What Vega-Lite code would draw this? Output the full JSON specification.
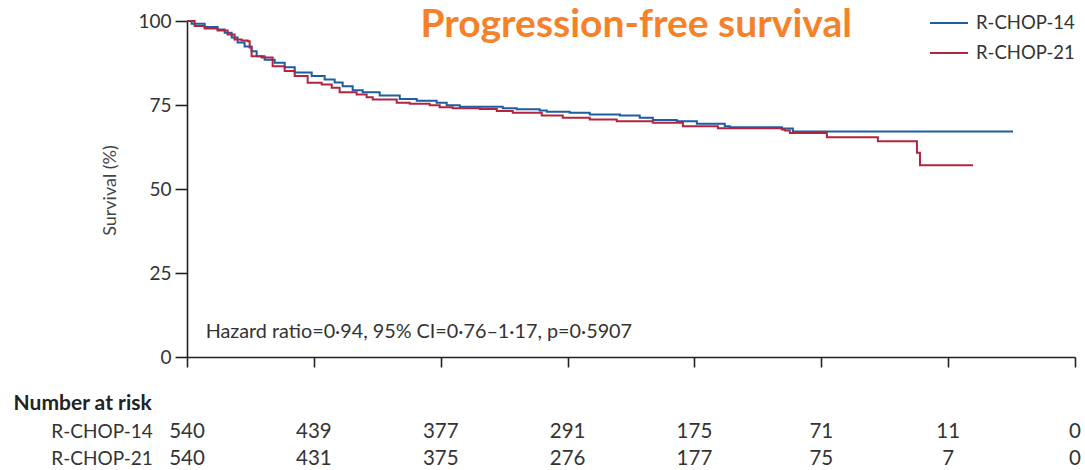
{
  "$schema": "https://vega.github.io/schema/vega-lite/v6.json",
  "autosize": "none",
  "width": 888,
  "height": 336,
  "padding": {"left": 187, "top": 21, "right": 10, "bottom": 113},
  "background": "white",
  "datasets": {
    "curves": [
      {"arm": "R-CHOP-14", "t": 0, "s": 100},
      {"arm": "R-CHOP-14", "t": 0.036, "s": 99.2},
      {"arm": "R-CHOP-14", "t": 0.139, "s": 98.2},
      {"arm": "R-CHOP-14", "t": 0.241, "s": 97.5},
      {"arm": "R-CHOP-14", "t": 0.297, "s": 96.5},
      {"arm": "R-CHOP-14", "t": 0.352, "s": 95.1},
      {"arm": "R-CHOP-14", "t": 0.399, "s": 93.6},
      {"arm": "R-CHOP-14", "t": 0.454, "s": 92.4},
      {"arm": "R-CHOP-14", "t": 0.509, "s": 91.0},
      {"arm": "R-CHOP-14", "t": 0.549, "s": 89.5},
      {"arm": "R-CHOP-14", "t": 0.612, "s": 88.5},
      {"arm": "R-CHOP-14", "t": 0.691, "s": 87.6},
      {"arm": "R-CHOP-14", "t": 0.770, "s": 86.2},
      {"arm": "R-CHOP-14", "t": 0.849, "s": 84.7},
      {"arm": "R-CHOP-14", "t": 0.983, "s": 83.6},
      {"arm": "R-CHOP-14", "t": 1.085, "s": 82.6},
      {"arm": "R-CHOP-14", "t": 1.164, "s": 81.7},
      {"arm": "R-CHOP-14", "t": 1.227, "s": 80.6},
      {"arm": "R-CHOP-14", "t": 1.306, "s": 79.4},
      {"arm": "R-CHOP-14", "t": 1.385, "s": 78.8},
      {"arm": "R-CHOP-14", "t": 1.519, "s": 77.8},
      {"arm": "R-CHOP-14", "t": 1.677, "s": 76.8},
      {"arm": "R-CHOP-14", "t": 1.811, "s": 76.3},
      {"arm": "R-CHOP-14", "t": 1.968, "s": 75.7},
      {"arm": "R-CHOP-14", "t": 2.047, "s": 74.9},
      {"arm": "R-CHOP-14", "t": 2.150, "s": 74.5},
      {"arm": "R-CHOP-14", "t": 2.489, "s": 74.0},
      {"arm": "R-CHOP-14", "t": 2.599, "s": 73.7},
      {"arm": "R-CHOP-14", "t": 2.780, "s": 73.4},
      {"arm": "R-CHOP-14", "t": 2.836, "s": 73.0},
      {"arm": "R-CHOP-14", "t": 3.017, "s": 72.7},
      {"arm": "R-CHOP-14", "t": 3.175, "s": 72.2},
      {"arm": "R-CHOP-14", "t": 3.412, "s": 71.9},
      {"arm": "R-CHOP-14", "t": 3.569, "s": 71.2},
      {"arm": "R-CHOP-14", "t": 3.672, "s": 70.5},
      {"arm": "R-CHOP-14", "t": 3.861, "s": 70.2},
      {"arm": "R-CHOP-14", "t": 4.019, "s": 69.4},
      {"arm": "R-CHOP-14", "t": 4.239, "s": 68.7},
      {"arm": "R-CHOP-14", "t": 4.279, "s": 68.4},
      {"arm": "R-CHOP-14", "t": 4.689, "s": 68.0},
      {"arm": "R-CHOP-14", "t": 4.776, "s": 67.1},
      {"arm": "R-CHOP-14", "t": 6.511, "s": 67.1},
      {"arm": "R-CHOP-21", "t": 0, "s": 100},
      {"arm": "R-CHOP-21", "t": 0.060, "s": 98.5},
      {"arm": "R-CHOP-21", "t": 0.139, "s": 97.8},
      {"arm": "R-CHOP-21", "t": 0.241, "s": 97.2},
      {"arm": "R-CHOP-21", "t": 0.320, "s": 96.0},
      {"arm": "R-CHOP-21", "t": 0.375, "s": 94.5},
      {"arm": "R-CHOP-21", "t": 0.431, "s": 94.2},
      {"arm": "R-CHOP-21", "t": 0.478, "s": 94.0},
      {"arm": "R-CHOP-21", "t": 0.494, "s": 92.1},
      {"arm": "R-CHOP-21", "t": 0.509, "s": 89.5},
      {"arm": "R-CHOP-21", "t": 0.588, "s": 89.1},
      {"arm": "R-CHOP-21", "t": 0.675, "s": 86.5},
      {"arm": "R-CHOP-21", "t": 0.770, "s": 85.1},
      {"arm": "R-CHOP-21", "t": 0.849, "s": 83.6},
      {"arm": "R-CHOP-21", "t": 0.951, "s": 81.6},
      {"arm": "R-CHOP-21", "t": 1.062, "s": 81.1},
      {"arm": "R-CHOP-21", "t": 1.141, "s": 80.1},
      {"arm": "R-CHOP-21", "t": 1.203, "s": 78.8},
      {"arm": "R-CHOP-21", "t": 1.337, "s": 78.1},
      {"arm": "R-CHOP-21", "t": 1.416, "s": 77.3},
      {"arm": "R-CHOP-21", "t": 1.464, "s": 76.6},
      {"arm": "R-CHOP-21", "t": 1.653, "s": 75.7},
      {"arm": "R-CHOP-21", "t": 1.756, "s": 75.4},
      {"arm": "R-CHOP-21", "t": 1.913, "s": 74.9},
      {"arm": "R-CHOP-21", "t": 1.992, "s": 74.3},
      {"arm": "R-CHOP-21", "t": 2.095, "s": 74.0},
      {"arm": "R-CHOP-21", "t": 2.308, "s": 73.8},
      {"arm": "R-CHOP-21", "t": 2.442, "s": 73.2},
      {"arm": "R-CHOP-21", "t": 2.568, "s": 72.7},
      {"arm": "R-CHOP-21", "t": 2.796, "s": 71.9},
      {"arm": "R-CHOP-21", "t": 2.962, "s": 71.2},
      {"arm": "R-CHOP-21", "t": 3.175, "s": 70.7},
      {"arm": "R-CHOP-21", "t": 3.388, "s": 70.2},
      {"arm": "R-CHOP-21", "t": 3.672, "s": 69.7},
      {"arm": "R-CHOP-21", "t": 3.909, "s": 68.7},
      {"arm": "R-CHOP-21", "t": 4.185, "s": 68.1},
      {"arm": "R-CHOP-21", "t": 4.689, "s": 67.7},
      {"arm": "R-CHOP-21", "t": 4.712, "s": 67.4},
      {"arm": "R-CHOP-21", "t": 4.752, "s": 66.7},
      {"arm": "R-CHOP-21", "t": 5.044, "s": 65.4},
      {"arm": "R-CHOP-21", "t": 5.446, "s": 64.2},
      {"arm": "R-CHOP-21", "t": 5.754, "s": 60.8},
      {"arm": "R-CHOP-21", "t": 5.778, "s": 57.1},
      {"arm": "R-CHOP-21", "t": 6.196, "s": 57.1}
    ],
    "risk": [
      {"arm": "R-CHOP-14", "year": 0, "n": 540},
      {"arm": "R-CHOP-14", "year": 1, "n": 439},
      {"arm": "R-CHOP-14", "year": 2, "n": 377},
      {"arm": "R-CHOP-14", "year": 3, "n": 291},
      {"arm": "R-CHOP-14", "year": 4, "n": 175},
      {"arm": "R-CHOP-14", "year": 5, "n": 71},
      {"arm": "R-CHOP-14", "year": 6, "n": 11},
      {"arm": "R-CHOP-14", "year": 7, "n": 0},
      {"arm": "R-CHOP-21", "year": 0, "n": 540},
      {"arm": "R-CHOP-21", "year": 1, "n": 431},
      {"arm": "R-CHOP-21", "year": 2, "n": 375},
      {"arm": "R-CHOP-21", "year": 3, "n": 276},
      {"arm": "R-CHOP-21", "year": 4, "n": 177},
      {"arm": "R-CHOP-21", "year": 5, "n": 75},
      {"arm": "R-CHOP-21", "year": 6, "n": 7},
      {"arm": "R-CHOP-21", "year": 7, "n": 0}
    ]
  },
  "layer": [
    {
      "data": {"name": "curves"},
      "mark": {"type": "line", "interpolate": "step-after", "strokeWidth": 2},
      "encoding": {
        "x": {"field": "t", "type": "quantitative",
              "scale": {"domain": [0, 7], "nice": false, "zero": false},
              "axis": {"values": [0, 1, 2, 3, 4, 5, 6, 7], "labels": false, "tickSize": 10, "title": null}},
        "y": {"field": "s", "type": "quantitative",
              "scale": {"domain": [0, 100], "nice": false},
              "axis": {"values": [0, 25, 50, 75, 100], "tickSize": 12, "labelPadding": 4,
                       "title": "Survival (%)", "titleX": -77, "titleY": 169, "titleBaseline": "middle",
                       "titleFontSize": 18, "titleFontWeight": "normal", "titleColor": "#444"}},
        "color": {"field": "arm", "type": "nominal",
                  "scale": {"domain": ["R-CHOP-14", "R-CHOP-21"], "range": ["#1B5EA1", "#B3243F"]},
                  "legend": {"orient": "none", "legendX": 742, "legendY": -18, "title": null,
                             "symbolType": "stroke", "symbolSize": 1444, "symbolStrokeWidth": 2,
                             "labelFont": "Lato", "labelFontSize": 18.5, "labelColor": "#333",
                             "labelOffset": 7, "rowPadding": 0}},
        "order": {"field": "t", "type": "quantitative"}
      }
    },
    {
      "data": {"values": [{"label": "Progression-free survival"}]},
      "mark": {"type": "text", "align": "left", "baseline": "alphabetic", "font": "Lato", "fontSize": 39, "fontWeight": "bold", "color": "#F5822A"},
      "encoding": {"x": {"datum": 1.84}, "y": {"datum": 95.3}, "text": {"field": "label"}}
    },
    {
      "data": {"values": [{"label": "Hazard ratio=0·94, 95% CI=0·76–1·17, p=0·5907"}]},
      "mark": {"type": "text", "align": "left", "baseline": "middle", "font": "Lato", "fontSize": 19.8, "color": "#333"},
      "encoding": {"x": {"datum": 0.147}, "y": {"datum": 7.3}, "text": {"field": "label"}}
    },
    {
      "data": {"values": [{"label": "Number at risk"}]},
      "mark": {"type": "text", "align": "left", "baseline": "middle", "font": "Lato", "fontSize": 21, "fontWeight": "bold", "color": "#222"},
      "encoding": {"x": {"datum": -1.367}, "y": {"datum": -14.0}, "text": {"field": "label"}}
    },
    {
      "data": {"values": [{"label": "R-CHOP-14"}]},
      "mark": {"type": "text", "align": "right", "baseline": "middle", "font": "Lato", "fontSize": 19, "color": "#333"},
      "encoding": {"x": {"datum": -0.27}, "y": {"datum": -22.2}, "text": {"field": "label"}}
    },
    {
      "data": {"values": [{"label": "R-CHOP-21"}]},
      "mark": {"type": "text", "align": "right", "baseline": "middle", "font": "Lato", "fontSize": 19, "color": "#333"},
      "encoding": {"x": {"datum": -0.27}, "y": {"datum": -30.4}, "text": {"field": "label"}}
    },
    {
      "data": {"name": "risk"},
      "transform": [{"filter": "datum.arm === 'R-CHOP-14'"}],
      "mark": {"type": "text", "align": "center", "baseline": "middle", "font": "Lato", "fontSize": 20.5, "color": "#333"},
      "encoding": {"x": {"field": "year", "type": "quantitative"}, "y": {"datum": -22.2}, "text": {"field": "n"}}
    },
    {
      "data": {"name": "risk"},
      "transform": [{"filter": "datum.arm === 'R-CHOP-21'"}],
      "mark": {"type": "text", "align": "center", "baseline": "middle", "font": "Lato", "fontSize": 20.5, "color": "#333"},
      "encoding": {"x": {"field": "year", "type": "quantitative"}, "y": {"datum": -30.4}, "text": {"field": "n"}}
    }
  ],
  "config": {
    "font": "Lato",
    "view": {"stroke": null},
    "axis": {"grid": false, "domainColor": "#222", "tickColor": "#222", "domainWidth": 1.6, "tickWidth": 1.6,
             "labelFont": "Lato", "labelFontSize": 19, "labelColor": "#333", "titleFont": "Lato"}
  }
}
